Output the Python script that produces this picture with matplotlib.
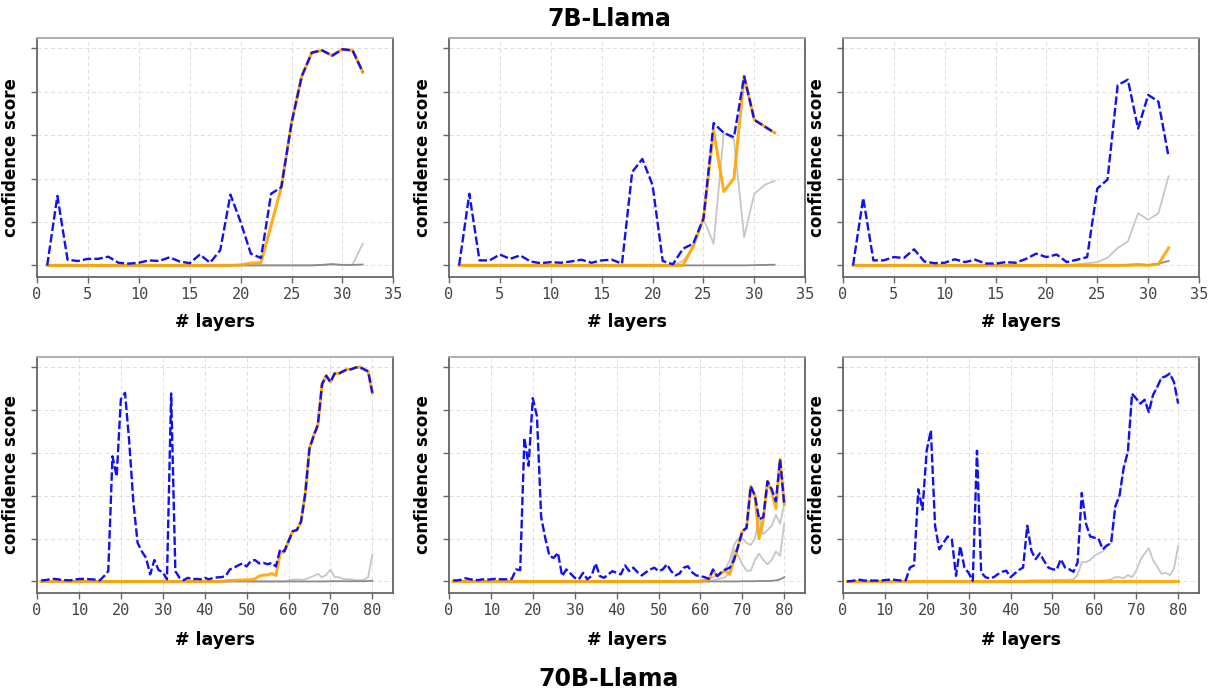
import matplotlib
matplotlib.use("Agg")
import matplotlib.pyplot as plt

# layer indices
layers_7b = list(range(1, 33))
layers_70b = list(range(1, 81))

# ---- 7B-Llama (top row) ----
blue_7b_a = [0.0, 0.32, 0.026, 0.02, 0.03, 0.03, 0.04, 0.012, 0.008, 0.012,
             0.023, 0.02, 0.037, 0.018, 0.01, 0.05, 0.012, 0.07, 0.326, 0.2,
             0.054, 0.034, 0.33, 0.36, 0.655, 0.87, 0.98, 0.99, 0.966, 0.995,
             0.99, 0.89]
orange_7b_a = [0.0, 0.0, 0.0, 0.0, 0.0, 0.0, 0.0, 0.0, 0.0, 0.0,
               0.0, 0.0, 0.0, 0.0, 0.0, 0.0, 0.0, 0.0, 0.0, 0.002,
               0.01, 0.012, 0.185, 0.36, 0.655, 0.87, 0.98, 0.99, 0.966, 0.995,
               0.99, 0.89]
gray_7b_a = [0.0, 0.0, 0.0, 0.0, 0.0, 0.0, 0.0, 0.0, 0.0, 0.0,
             0.0, 0.0, 0.0, 0.0, 0.0, 0.0, 0.0, 0.0, 0.0, 0.0,
             0.0, 0.0, 0.0, 0.0, 0.0, 0.0, 0.0, 0.002, 0.006, 0.002,
             0.003, 0.1]
dark_7b_a = [0.0, 0.0, 0.0, 0.0, 0.0, 0.0, 0.0, 0.0, 0.0, 0.0,
             0.0, 0.0, 0.0, 0.0, 0.0, 0.0, 0.0, 0.0, 0.0, 0.0,
             0.0, 0.0, 0.0, 0.0, 0.0, 0.0, 0.0, 0.002, 0.005, 0.002,
             0.002, 0.004]

blue_7b_b = [0.0, 0.33, 0.023, 0.023, 0.05, 0.03, 0.046, 0.018, 0.01, 0.015,
             0.012, 0.018, 0.026, 0.012, 0.023, 0.026, 0.008, 0.43, 0.49, 0.37,
             0.02, 0.005, 0.077, 0.1, 0.215, 0.655, 0.61, 0.59, 0.87, 0.67,
             0.64, 0.61]
orange_7b_b = [0.0, 0.0, 0.0, 0.0, 0.0, 0.0, 0.0, 0.0, 0.0, 0.0,
               0.0, 0.0, 0.0, 0.0, 0.0, 0.0, 0.0, 0.0, 0.0, 0.0,
               0.0, 0.0, 0.0, 0.09, 0.215, 0.62, 0.34, 0.4, 0.87, 0.67,
               0.64, 0.61]
gray_7b_b = [0.0, 0.0, 0.0, 0.0, 0.0, 0.0, 0.0, 0.0, 0.0, 0.0,
             0.0, 0.0, 0.0, 0.0, 0.0, 0.0, 0.0, 0.0, 0.0, 0.0,
             0.0, 0.0, 0.02, 0.08, 0.215, 0.1, 0.61, 0.58, 0.13, 0.33,
             0.37, 0.39]
dark_7b_b = [0.0, 0.0, 0.0, 0.0, 0.0, 0.0, 0.0, 0.0, 0.0, 0.0,
             0.0, 0.0, 0.0, 0.0, 0.0, 0.0, 0.0, 0.0, 0.0, 0.0,
             0.0, 0.0, 0.0, 0.0, 0.0, 0.0, 0.0, 0.0, 0.0, 0.001,
             0.002, 0.003]

blue_7b_c = [0.0, 0.31, 0.023, 0.023, 0.038, 0.034, 0.074, 0.018, 0.01, 0.012,
             0.028, 0.015, 0.026, 0.009, 0.008, 0.015, 0.012, 0.03, 0.054, 0.038,
             0.05, 0.015, 0.026, 0.038, 0.354, 0.395, 0.83, 0.855, 0.63, 0.785,
             0.754, 0.5]
orange_7b_c = [0.0, 0.0, 0.0, 0.0, 0.0, 0.0, 0.0, 0.0, 0.0, 0.0,
               0.0, 0.0, 0.0, 0.0, 0.0, 0.0, 0.0, 0.0, 0.0, 0.0,
               0.0, 0.0, 0.0, 0.0, 0.0, 0.0, 0.0, 0.0, 0.002, 0.0,
               0.005, 0.08]
gray_7b_c = [0.0, 0.0, 0.0, 0.0, 0.0, 0.0, 0.0, 0.0, 0.0, 0.0,
             0.0, 0.0, 0.0, 0.0, 0.0, 0.0, 0.0, 0.0, 0.0, 0.0,
             0.0, 0.0, 0.005, 0.01, 0.015, 0.035, 0.08, 0.11, 0.24, 0.21,
             0.24, 0.41]
dark_7b_c = [0.0, 0.0, 0.0, 0.0, 0.0, 0.0, 0.0, 0.0, 0.0, 0.0,
             0.0, 0.0, 0.0, 0.0, 0.0, 0.0, 0.0, 0.0, 0.0, 0.0,
             0.0, 0.0, 0.0, 0.0, 0.0, 0.0, 0.0, 0.003, 0.005, 0.002,
             0.008, 0.02]

# ---- 70B-Llama (bottom row) ----
blue_70b_a = [0.005, 0.006, 0.01, 0.012, 0.01, 0.006, 0.006, 0.005, 0.01, 0.011,
              0.012, 0.011, 0.01, 0.008, 0.005, 0.025, 0.048, 0.584, 0.49, 0.85,
              0.88, 0.65, 0.366, 0.18, 0.14, 0.11, 0.033, 0.1, 0.053, 0.043,
              0.01, 0.877, 0.048, 0.017, 0.006, 0.017, 0.01, 0.012, 0.01, 0.017,
              0.01, 0.016, 0.019, 0.02, 0.025, 0.056, 0.064, 0.075, 0.084, 0.07,
              0.095, 0.1, 0.084, 0.087, 0.08, 0.087, 0.07, 0.15, 0.14, 0.188,
              0.234, 0.24, 0.28, 0.41, 0.62, 0.68, 0.73, 0.92, 0.96, 0.93,
              0.97, 0.97, 0.98, 0.99, 0.99, 0.998, 1.0, 0.99, 0.98, 0.88]
orange_70b_a = [0.0, 0.0, 0.0, 0.0, 0.0, 0.0, 0.0, 0.0, 0.0, 0.0,
                0.0, 0.0, 0.0, 0.0, 0.0, 0.0, 0.0, 0.0, 0.0, 0.0,
                0.0, 0.0, 0.0, 0.0, 0.0, 0.0, 0.0, 0.0, 0.0, 0.0,
                0.0, 0.0, 0.0, 0.0, 0.0, 0.0, 0.0, 0.0, 0.0, 0.0,
                0.0, 0.0, 0.0, 0.0, 0.003, 0.004, 0.005, 0.006, 0.006, 0.007,
                0.008, 0.012, 0.025, 0.03, 0.03, 0.037, 0.028, 0.13, 0.14, 0.188,
                0.234, 0.24, 0.28, 0.41, 0.62, 0.68, 0.73, 0.92, 0.96, 0.93,
                0.97, 0.97, 0.98, 0.99, 0.99, 0.998, 1.0, 0.99, 0.98, 0.88]
gray_70b_a = [0.0, 0.0, 0.0, 0.0, 0.0, 0.0, 0.0, 0.0, 0.0, 0.0,
              0.0, 0.0, 0.0, 0.0, 0.0, 0.0, 0.0, 0.0, 0.0, 0.0,
              0.0, 0.0, 0.0, 0.0, 0.0, 0.0, 0.0, 0.0, 0.0, 0.0,
              0.0, 0.0, 0.0, 0.0, 0.0, 0.0, 0.0, 0.0, 0.0, 0.0,
              0.0, 0.0, 0.0, 0.0, 0.0, 0.0, 0.0, 0.0, 0.0, 0.0,
              0.0, 0.0, 0.0, 0.0, 0.0, 0.0, 0.0, 0.0, 0.0, 0.005,
              0.008, 0.01, 0.008, 0.01, 0.018, 0.025, 0.035, 0.02, 0.03, 0.056,
              0.02, 0.02, 0.012, 0.01, 0.01, 0.005, 0.005, 0.008, 0.02, 0.126]
dark_70b_a = [0.0, 0.0, 0.0, 0.0, 0.0, 0.0, 0.0, 0.0, 0.0, 0.0,
              0.0, 0.0, 0.0, 0.0, 0.0, 0.0, 0.0, 0.0, 0.0, 0.0,
              0.0, 0.0, 0.0, 0.0, 0.0, 0.0, 0.0, 0.0, 0.0, 0.0,
              0.0, 0.0, 0.0, 0.0, 0.0, 0.0, 0.0, 0.0, 0.0, 0.0,
              0.0, 0.0, 0.0, 0.0, 0.0, 0.0, 0.0, 0.0, 0.0, 0.0,
              0.0, 0.0, 0.0, 0.0, 0.0, 0.0, 0.0, 0.0, 0.0, 0.0,
              0.0, 0.0, 0.0, 0.0, 0.0, 0.0, 0.0, 0.0, 0.0, 0.001,
              0.001, 0.001, 0.001, 0.001, 0.001, 0.001, 0.001, 0.001, 0.002, 0.003]

blue_70b_b = [0.005, 0.005, 0.008, 0.015, 0.01, 0.008, 0.006, 0.01, 0.008, 0.01,
              0.012, 0.01, 0.01, 0.01, 0.012, 0.056, 0.053, 0.67, 0.54, 0.855,
              0.77, 0.3, 0.2, 0.118, 0.11, 0.134, 0.025, 0.056, 0.037, 0.017,
              0.01, 0.04, 0.01, 0.025, 0.084, 0.025, 0.017, 0.033, 0.048, 0.04,
              0.033, 0.075, 0.048, 0.064, 0.043, 0.028, 0.043, 0.056, 0.064, 0.048,
              0.056, 0.08, 0.048, 0.028, 0.037, 0.064, 0.071, 0.043, 0.028, 0.025,
              0.02, 0.012, 0.056, 0.025, 0.043, 0.056, 0.064, 0.1, 0.165, 0.234,
              0.25, 0.444, 0.4, 0.29, 0.3, 0.467, 0.43, 0.374, 0.57, 0.36]
orange_70b_b = [0.0, 0.0, 0.0, 0.0, 0.0, 0.0, 0.0, 0.0, 0.0, 0.0,
                0.0, 0.0, 0.0, 0.0, 0.0, 0.0, 0.0, 0.0, 0.0, 0.0,
                0.0, 0.0, 0.0, 0.0, 0.0, 0.0, 0.0, 0.0, 0.0, 0.0,
                0.0, 0.0, 0.0, 0.0, 0.0, 0.0, 0.0, 0.0, 0.0, 0.0,
                0.0, 0.0, 0.0, 0.0, 0.0, 0.0, 0.0, 0.0, 0.0, 0.0,
                0.0, 0.0, 0.0, 0.0, 0.0, 0.0, 0.0, 0.0, 0.0, 0.002,
                0.004, 0.01, 0.05, 0.025, 0.04, 0.05, 0.033, 0.1, 0.165, 0.234,
                0.25, 0.444, 0.4, 0.2, 0.29, 0.467, 0.42, 0.34, 0.57, 0.36]
gray_70b_b1 = [0.0, 0.0, 0.0, 0.0, 0.0, 0.0, 0.0, 0.0, 0.0, 0.0,
               0.0, 0.0, 0.0, 0.0, 0.0, 0.0, 0.0, 0.0, 0.0, 0.0,
               0.0, 0.0, 0.0, 0.0, 0.0, 0.0, 0.0, 0.0, 0.0, 0.0,
               0.0, 0.0, 0.0, 0.0, 0.0, 0.0, 0.0, 0.0, 0.0, 0.0,
               0.0, 0.0, 0.0, 0.0, 0.0, 0.0, 0.0, 0.0, 0.0, 0.0,
               0.0, 0.0, 0.0, 0.0, 0.0, 0.0, 0.0, 0.0, 0.0, 0.003,
               0.005, 0.01, 0.02, 0.03, 0.04, 0.06, 0.1, 0.17, 0.2, 0.2,
               0.18, 0.17, 0.2, 0.3, 0.22, 0.24, 0.26, 0.31, 0.27, 0.36]
gray_70b_b2 = [0.0, 0.0, 0.0, 0.0, 0.0, 0.0, 0.0, 0.0, 0.0, 0.0,
               0.0, 0.0, 0.0, 0.0, 0.0, 0.0, 0.0, 0.0, 0.0, 0.0,
               0.0, 0.0, 0.0, 0.0, 0.0, 0.0, 0.0, 0.0, 0.0, 0.0,
               0.0, 0.0, 0.0, 0.0, 0.0, 0.0, 0.0, 0.0, 0.0, 0.0,
               0.0, 0.0, 0.0, 0.0, 0.0, 0.0, 0.0, 0.0, 0.0, 0.0,
               0.0, 0.0, 0.0, 0.0, 0.0, 0.0, 0.0, 0.0, 0.0, 0.0,
               0.0, 0.0, 0.005, 0.01, 0.015, 0.02, 0.05, 0.15, 0.12, 0.08,
               0.05, 0.05, 0.1, 0.13, 0.1, 0.08, 0.1, 0.14, 0.12, 0.27]
dark_70b_b = [0.0, 0.0, 0.0, 0.0, 0.0, 0.0, 0.0, 0.0, 0.0, 0.0,
              0.0, 0.0, 0.0, 0.0, 0.0, 0.0, 0.0, 0.0, 0.0, 0.0,
              0.0, 0.0, 0.0, 0.0, 0.0, 0.0, 0.0, 0.0, 0.0, 0.0,
              0.0, 0.0, 0.0, 0.0, 0.0, 0.0, 0.0, 0.0, 0.0, 0.0,
              0.0, 0.0, 0.0, 0.0, 0.0, 0.0, 0.0, 0.0, 0.0, 0.0,
              0.0, 0.0, 0.0, 0.0, 0.0, 0.0, 0.0, 0.0, 0.0, 0.0,
              0.0, 0.0, 0.0, 0.0, 0.0, 0.0, 0.0, 0.0, 0.0, 0.001,
              0.001, 0.001, 0.001, 0.002, 0.002, 0.002, 0.003, 0.005, 0.01, 0.02]

blue_70b_c = [0.0, 0.002, 0.005, 0.008, 0.004, 0.004, 0.004, 0.004, 0.004, 0.006,
              0.008, 0.008, 0.006, 0.004, 0.005, 0.065, 0.075, 0.43, 0.335, 0.61,
              0.705, 0.26, 0.15, 0.18, 0.21, 0.196, 0.026, 0.165, 0.065, 0.04,
              0.003, 0.61, 0.042, 0.02, 0.014, 0.02, 0.034, 0.045, 0.05, 0.02,
              0.037, 0.053, 0.065, 0.26, 0.142, 0.104, 0.131, 0.096, 0.065, 0.057,
              0.054, 0.104, 0.065, 0.057, 0.045, 0.088, 0.413, 0.27, 0.21, 0.204,
              0.2, 0.15, 0.168, 0.178, 0.35, 0.4, 0.53, 0.605, 0.876, 0.853,
              0.83, 0.848, 0.79, 0.87, 0.907, 0.95, 0.957, 0.97, 0.93, 0.83]
orange_70b_c = [0.0, 0.0, 0.0, 0.0, 0.0, 0.0, 0.0, 0.0, 0.0, 0.0,
                0.0, 0.0, 0.0, 0.0, 0.0, 0.0, 0.0, 0.0, 0.0, 0.0,
                0.0, 0.0, 0.0, 0.0, 0.0, 0.0, 0.0, 0.0, 0.0, 0.0,
                0.0, 0.0, 0.0, 0.0, 0.0, 0.0, 0.0, 0.0, 0.0, 0.0,
                0.0, 0.0, 0.0, 0.0, 0.0, 0.0, 0.0, 0.0, 0.0, 0.0,
                0.0, 0.0, 0.0, 0.0, 0.0, 0.0, 0.0, 0.0, 0.0, 0.0,
                0.0, 0.0, 0.0, 0.0, 0.0, 0.0, 0.0, 0.0, 0.0, 0.0,
                0.0, 0.0, 0.0, 0.0, 0.0, 0.0, 0.0, 0.0, 0.0, 0.0]
gray_70b_c1 = [0.0, 0.0, 0.0, 0.0, 0.0, 0.0, 0.0, 0.0, 0.0, 0.0,
               0.0, 0.0, 0.0, 0.0, 0.0, 0.0, 0.0, 0.0, 0.0, 0.0,
               0.0, 0.0, 0.0, 0.0, 0.0, 0.0, 0.0, 0.0, 0.0, 0.0,
               0.0, 0.0, 0.0, 0.0, 0.0, 0.0, 0.0, 0.0, 0.0, 0.0,
               0.0, 0.0, 0.0, 0.004, 0.005, 0.005, 0.006, 0.006, 0.005, 0.006,
               0.007, 0.008, 0.007, 0.008, 0.01, 0.03, 0.09, 0.09, 0.1, 0.12,
               0.13, 0.14, 0.168, 0.178, 0.35, 0.4, 0.53, 0.605, 0.876, 0.853,
               0.83, 0.848, 0.79, 0.87, 0.907, 0.95, 0.957, 0.97, 0.93, 0.83]
gray_70b_c2 = [0.0, 0.0, 0.0, 0.0, 0.0, 0.0, 0.0, 0.0, 0.0, 0.0,
               0.0, 0.0, 0.0, 0.0, 0.0, 0.0, 0.0, 0.0, 0.0, 0.0,
               0.0, 0.0, 0.0, 0.0, 0.0, 0.0, 0.0, 0.0, 0.0, 0.0,
               0.0, 0.0, 0.0, 0.0, 0.0, 0.0, 0.0, 0.0, 0.0, 0.0,
               0.0, 0.0, 0.0, 0.0, 0.0, 0.0, 0.0, 0.0, 0.0, 0.0,
               0.0, 0.0, 0.0, 0.0, 0.0, 0.0, 0.0, 0.0, 0.0, 0.0,
               0.003, 0.004, 0.005, 0.01, 0.02, 0.02, 0.015, 0.03, 0.02, 0.05,
               0.1, 0.13, 0.155, 0.1, 0.07, 0.035, 0.04, 0.03, 0.06, 0.165]

y_ticks = [0.0, 0.2, 0.4, 0.6, 0.8, 1.0]
x_ticks_7b = [0, 5, 10, 15, 20, 25, 30, 35]
x_ticks_70b = [0, 10, 20, 30, 40, 50, 60, 70, 80]

panels = [
    (layers_7b, blue_7b_a, orange_7b_a, [gray_7b_a], [dark_7b_a]),
    (layers_7b, blue_7b_b, orange_7b_b, [gray_7b_b], [dark_7b_b]),
    (layers_7b, blue_7b_c, orange_7b_c, [gray_7b_c], [dark_7b_c]),
    (layers_70b, blue_70b_a, orange_70b_a, [gray_70b_a], [dark_70b_a]),
    (layers_70b, blue_70b_b, orange_70b_b, [gray_70b_b1, gray_70b_b2], [dark_70b_b]),
    (layers_70b, blue_70b_c, orange_70b_c, [gray_70b_c1, gray_70b_c2], []),
]

fig = plt.figure(figsize=(12.18, 6.91), dpi=100)

lefts = [0.0304, 0.3686, 0.692]
width = 0.2925
rows = [(0.599, 0.346), (0.1418, 0.3415)]

edge = '#666666'
for i, (x, blue, orange, grays, darks) in enumerate(panels):
    r, c = divmod(i, 3)
    bottom, height = rows[r]
    ax = fig.add_axes([lefts[c], bottom, width, height])

    for g in grays:
        ax.plot(x, g, color='#c6c6c6', lw=1.3, zorder=2)
    for g in darks:
        ax.plot(x, g, color='#8a8a8a', lw=1.3, zorder=2)
    ax.plot(x, orange, color='#ffa500', lw=2.2, alpha=0.9, zorder=3)
    ax.plot(x, blue, color='#1010f5', lw=1.7, ls=(0, (3.6, 1.3)), zorder=4)

    if r == 0:
        ax.set_xlim(0, 35)
        ax.set_xticks(x_ticks_7b)
    else:
        ax.set_xlim(0, 85)
        ax.set_xticks(x_ticks_70b)
    ax.set_ylim(-0.054, 1.047)
    ax.set_yticks(y_ticks)
    ax.set_yticklabels([])

    ax.grid(True, color='#dedede', lw=0.7, ls=(0, (4, 3)))
    ax.set_axisbelow(True)
    for s in ax.spines.values():
        s.set_color(edge)
        s.set_linewidth(1.3)
    ax.spines['top'].set_color('#a8a8a8')
    ax.tick_params(direction='out', length=4, width=1, color=edge,
                   labelcolor='#444444', labelsize=11,
                   labelfontfamily='DejaVu Sans Mono', pad=3)

    ax.set_ylabel('confidence score', fontsize=12, fontweight='bold')
    ax.yaxis.set_label_coords(-0.047, 0.5)
    ax.set_xlabel('# layers', fontsize=12.5, fontweight='bold')
    ax.xaxis.set_label_coords(0.5, -0.15 if r == 0 else -0.16)

fig.text(0.5, 0.972, '7B-Llama', ha='center', va='center',
         fontsize=17, fontweight='bold')
fig.text(0.5, 0.017, '70B-Llama', ha='center', va='center',
         fontsize=17, fontweight='bold')

fig.savefig('out.png', dpi=100)
